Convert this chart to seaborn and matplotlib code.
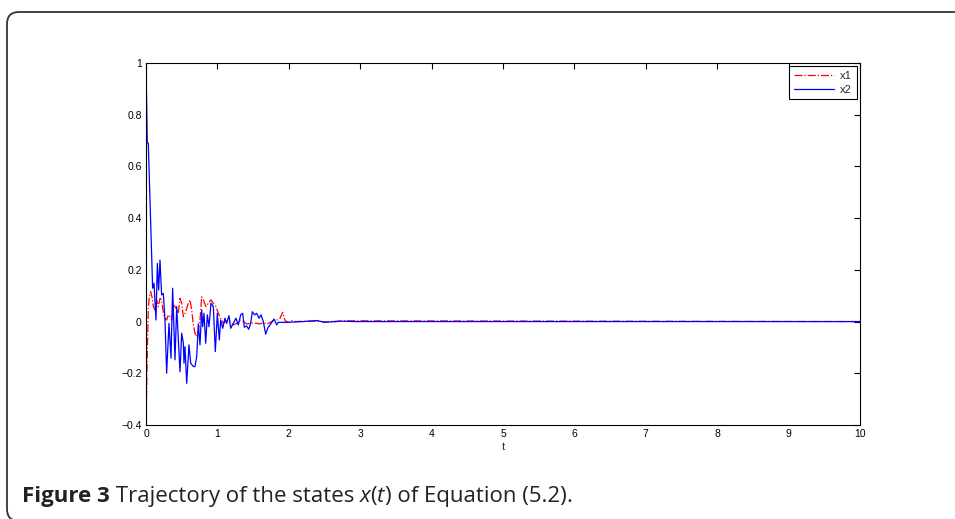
import matplotlib
matplotlib.use("Agg")
import matplotlib.pyplot as plt
import matplotlib.patches as mpatches
import matplotlib.transforms as mtransforms
import seaborn as sns
import pandas as pd
import numpy as np

# x2 trajectory (solid blue)
t_x2 = [0.0, 0.018, 0.032, 0.093, 0.112, 0.14, 0.159, 0.177, 0.196, 0.219,
        0.243, 0.266, 0.289, 0.322, 0.35, 0.373, 0.406, 0.43, 0.453, 0.476,
        0.5, 0.523, 0.532, 0.546, 0.57, 0.602, 0.626, 0.663, 0.686, 0.71,
        0.733, 0.756, 0.78, 0.794, 0.812, 0.836, 0.859, 0.882, 0.91, 0.943,
        0.971, 0.999, 1.027, 1.046, 1.074, 1.106, 1.13, 1.162, 1.186, 1.223,
        1.26, 1.293, 1.326, 1.354, 1.377, 1.41, 1.438, 1.466, 1.489, 1.522,
        1.55, 1.583, 1.611, 1.643, 1.676, 1.704, 1.737, 1.769, 1.793, 1.83,
        1.853, 1.886, 1.97, 2.2, 2.4, 2.5, 2.7, 2.9, 10.0]
x2 = [1.0, 0.69, 0.69, 0.129, 0.148, 0.006, 0.225, 0.122, 0.238, 0.103,
      0.109, 0.006, -0.2, -0.007, -0.142, 0.129, -0.148, 0.058, -0.071, -0.194,
      -0.045, -0.084, -0.161, -0.097, -0.239, -0.09, -0.161, -0.174, -0.174, -0.136,
      -0.009, -0.09, 0.045, -0.02, 0.032, -0.084, 0.026, -0.02, 0.071, 0.058,
      -0.116, 0.032, -0.071, 0.006, -0.026, 0.013, -0.007, 0.023, -0.026, -0.007,
      0.013, -0.013, 0.026, 0.032, -0.022, -0.017, -0.03, -0.007, 0.038, 0.026,
      0.032, 0.013, 0.026, 0.0, -0.049, -0.026, -0.013, 0.0, 0.01, -0.013,
      -0.003, -0.003, -0.003, 0.0, 0.004, -0.003, 0.002, 0.0, 0.0]

# x1 trajectory (red dash-dot)
t_x1 = [0.0, 0.019, 0.033, 0.047, 0.065, 0.084, 0.103, 0.126, 0.149, 0.173,
        0.196, 0.219, 0.243, 0.266, 0.289, 0.313, 0.336, 0.359, 0.383, 0.406,
        0.43, 0.453, 0.476, 0.5, 0.523, 0.546, 0.57, 0.593, 0.616, 0.64,
        0.663, 0.686, 0.71, 0.733, 0.756, 0.78, 0.803, 0.84, 0.873, 0.91,
        0.943, 0.98, 1.013, 1.046, 1.083, 1.13, 1.176, 1.223, 1.27, 1.317,
        1.363, 1.41, 1.457, 1.503, 1.55, 1.597, 1.643, 1.69, 1.737, 1.783,
        1.83, 1.877, 1.914, 1.947, 1.993, 2.04, 2.087, 2.3, 2.6, 2.8, 10.0]
x1 = [-0.4, -0.11, 0.058, 0.096, 0.116, 0.096, 0.058, 0.045, 0.084, 0.058,
      0.09, 0.084, 0.032, 0.013, 0.006, 0.026, 0.019, 0.006, 0.064, 0.058,
      0.045, 0.032, 0.09, 0.071, 0.019, 0.032, 0.051, 0.071, 0.084, 0.045,
      -0.013, -0.045, -0.058, -0.032, 0.006, 0.096, 0.084, 0.058, 0.071, 0.084,
      0.071, 0.058, 0.032, 0.013, -0.007, 0.003, 0.0, -0.013, -0.007, 0.006,
      0.0, -0.009, -0.007, -0.004, -0.007, -0.009, -0.004, -0.009, -0.004, 0.004,
      0.006, 0.013, 0.036, 0.004, -0.004, 0.004, 0.0, 0.002, -0.002, 0.003, 0.0]

x_ticks = list(range(0, 11))
y_ticks = [-0.4, -0.2, 0, 0.2, 0.4, 0.6, 0.8, 1]
y_tick_labels = ['\u22120.4', '\u22120.2', '0', '0.2', '0.4', '0.6', '0.8', '1']

sns.set_theme(style="white")
plt.rcParams['font.family'] = ['Liberation Sans', 'DejaVu Sans']

W, H = 955, 519
fig = plt.figure(figsize=(W / 100, H / 100), dpi=100)
ax = fig.add_axes([146 / W, 1 - 425 / H, (860 - 146) / W, (425 - 63) / H])

df1 = pd.DataFrame({'t': t_x1, 'value': x1})
df2 = pd.DataFrame({'t': t_x2, 'value': x2})
sns.lineplot(data=df1, x='t', y='value', ax=ax, color='#ff0000', lw=0.9,
             linestyle='-.', estimator=None, sort=False, label='x1')
sns.lineplot(data=df2, x='t', y='value', ax=ax, color='#0000ff', lw=0.9,
             linestyle='-', estimator=None, sort=False, label='x2')

ax.set_xlim(0, 10)
ax.set_ylim(-0.4, 1)
ax.set_xticks(x_ticks)
ax.set_xticklabels([str(v) for v in x_ticks])
ax.set_yticks(y_ticks)
ax.set_yticklabels(y_tick_labels)
ax.tick_params(direction='in', length=4, width=0.8, top=True, right=True,
               labelsize=7.5, colors='black', pad=3)
for s in ax.spines.values():
    s.set_color('black')
    s.set_linewidth(0.8)
ax.set_xlabel('t', fontsize=8, labelpad=2)
ax.set_ylabel('')

leg = ax.legend(loc='upper right', fontsize=8, frameon=True, fancybox=False,
                framealpha=1, edgecolor='black', borderpad=0.4, handlelength=3.6,
                handletextpad=0.6, labelspacing=0.35, borderaxespad=0.3)
leg.get_frame().set_linewidth(0.8)

# rounded panel frame
frame = mpatches.FancyBboxPatch((7, -2), 1100, 507 + 2, boxstyle='round,pad=0,rounding_size=12',
                                transform=mtransforms.IdentityTransform(),
                                fill=False, edgecolor='#333333', lw=1.3)
fig.patches.append(frame)

# caption with mixed styles
cap_font = ['Open Sans', 'DejaVu Sans']
pieces = [('Figure 3', 'bold', 'normal'), (' Trajectory of the states ', 'normal', 'normal'),
          ('x', 'normal', 'italic'), ('(', 'normal', 'normal'), ('t', 'normal', 'italic'),
          (') of Equation (5.2)', 'normal', 'normal'), ('.', 'normal', 'normal')]
renderer = fig.canvas.get_renderer()
xpos = 22
for txt, wt, st in pieces:
    tt = fig.text(xpos / W, 1 - 502 / H, txt, fontsize=16, fontweight=wt, fontstyle=st,
                  family=cap_font, va='baseline', ha='left', color='#222222')
    bb = tt.get_window_extent(renderer=renderer)
    xpos += bb.width

fig.savefig('out.png', dpi=100)
